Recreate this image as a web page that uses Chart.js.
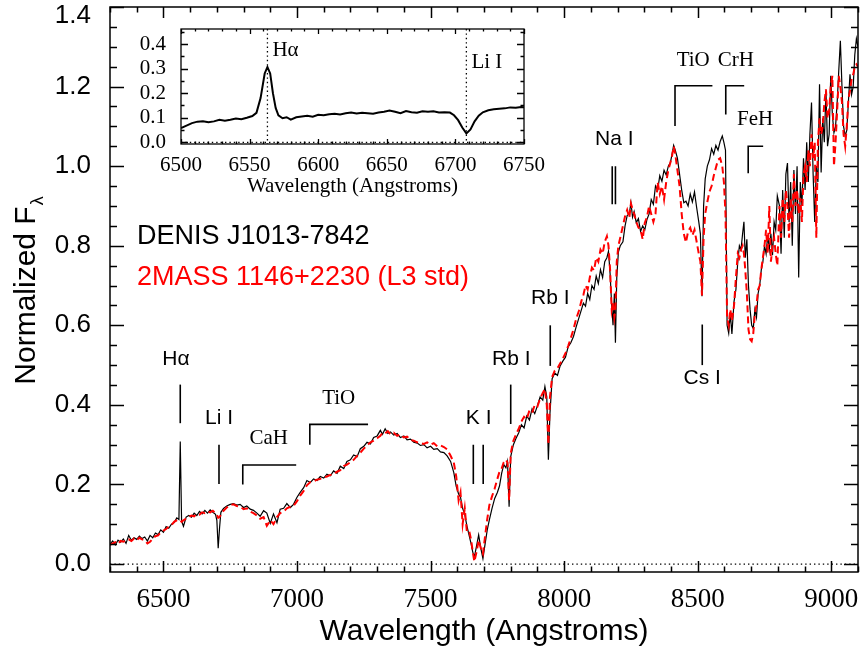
<!DOCTYPE html>
<html>
<head>
<meta charset="utf-8">
<script src="https://cdn.jsdelivr.net/npm/chart.js@4.4.1/dist/chart.umd.min.js"></script>
<style>
  html, body { margin: 0; padding: 0; background: #fff; }
  #wrap { position: relative; width: 863px; height: 651px; }
  #wrap canvas { position: absolute; left: 0; top: 0; }
</style>
</head>
<body>
<div id="wrap">
  <canvas id="main" width="863" height="651"></canvas>
  <canvas id="inset" width="863" height="651"></canvas>
</div>
<script>
// spectra (wavelength in Angstroms, normalized flux)
const wavelength = [
  6300, 6310, 6320, 6330, 6340, 6350, 6360, 6370, 6380, 6390,
  6400, 6410, 6420, 6430, 6440, 6450, 6460, 6470, 6480, 6490,
  6500, 6510, 6520, 6530, 6540, 6550, 6558, 6563, 6568,
  6575, 6585, 6595, 6605, 6615, 6625, 6635, 6645, 6655, 6665,
  6675, 6685, 6695, 6700, 6705, 6710, 6715,
  6725, 6737, 6750, 6762, 6775, 6787, 6800, 6812, 6825, 6837,
  6850, 6862, 6875, 6887, 6900, 6912, 6925, 6937, 6950, 6962,
  6975, 6987, 7000,
  7012, 7025, 7037, 7050, 7062, 7075, 7087, 7100, 7112, 7125,
  7137, 7150, 7162, 7175, 7187, 7200, 7212, 7225, 7237, 7250,
  7262, 7275, 7287, 7300, 7312, 7320, 7330, 7340, 7350, 7362,
  7375, 7387, 7400, 7412, 7425, 7437, 7450, 7462, 7475, 7487,
  7500, 7512, 7525, 7537, 7550,
  7562, 7575, 7587, 7596, 7605, 7612, 7620, 7628, 7636, 7645,
  7652, 7658, 7664, 7672, 7680, 7688, 7696, 7704, 7712, 7720,
  7730, 7740, 7750, 7758, 7766, 7774, 7782, 7788, 7794, 7800,
  7810, 7820, 7830, 7840, 7850, 7860, 7870, 7880, 7890, 7900,
  7910, 7920, 7928, 7935, 7941, 7947, 7955, 7965, 7975, 7985,
  7995,
  8005, 8015, 8025, 8035, 8045, 8055, 8065, 8072, 8080, 8088,
  8096, 8104, 8112, 8120, 8128, 8136, 8144, 8152, 8160, 8166,
  8172, 8178, 8183, 8188, 8192, 8197, 8203,
  8210, 8220, 8228, 8236, 8244, 8250, 8256, 8262, 8270, 8278,
  8286, 8294, 8302, 8310, 8318, 8326, 8334, 8342, 8350, 8358,
  8366, 8374, 8382, 8390, 8398, 8404, 8410, 8416,
  8424, 8432, 8440, 8448, 8456, 8464, 8472, 8480, 8488, 8496,
  8504, 8510, 8516, 8522, 8528, 8536, 8544, 8552, 8560, 8568,
  8576, 8584, 8592, 8598, 8604,
  8610, 8616, 8622, 8628, 8636, 8643, 8650, 8656, 8662, 8668,
  8673, 8678, 8684, 8690, 8696, 8702, 8708, 8714, 8720, 8726,
  8732, 8738, 8744, 8750, 8756, 8762, 8768, 8774, 8780, 8786,
  8792, 8798,
  8806, 8812, 8818, 8824, 8830, 8836, 8842, 8848, 8854, 8860,
  8866, 8872, 8878, 8884, 8890, 8896, 8902, 8908, 8914, 8920,
  8926, 8932, 8938, 8944, 8950, 8956, 8962, 8968, 8974, 8980,
  8986, 8992, 8998, 9004, 9010, 9016, 9022, 9028, 9034, 9040,
  9046, 9052, 9058, 9064, 9070, 9076, 9082, 9088, 9094, 9100
];

// DENIS J1013-7842 (black)
const denisFlux = [
  0.050, 0.058, 0.048, 0.060, 0.055, 0.063, 0.052, 0.072, 0.060, 0.066,
  0.062, 0.070, 0.064, 0.068, 0.058, 0.072, 0.066, 0.078, 0.074, 0.086,
  0.080, 0.094, 0.090, 0.100, 0.104, 0.116, 0.112, 0.308, 0.108,
  0.095, 0.118, 0.122, 0.118, 0.128, 0.122, 0.132, 0.126, 0.135, 0.128,
  0.136, 0.130, 0.125, 0.110, 0.040, 0.090, 0.130,
  0.140, 0.146, 0.150, 0.152, 0.148, 0.150, 0.142, 0.146, 0.138, 0.135,
  0.128, 0.120, 0.134, 0.128, 0.102, 0.126, 0.104, 0.138, 0.140, 0.152,
  0.142, 0.150, 0.168,
  0.180, 0.192, 0.210, 0.205, 0.214, 0.210, 0.220, 0.216, 0.226, 0.222,
  0.234, 0.228, 0.246, 0.240, 0.258, 0.262, 0.274, 0.270, 0.290, 0.296,
  0.306, 0.302, 0.318, 0.322, 0.336, 0.326, 0.340, 0.328, 0.332, 0.324,
  0.328, 0.318, 0.322, 0.312, 0.314, 0.306, 0.304, 0.298, 0.300, 0.292,
  0.296, 0.288, 0.290, 0.282, 0.280,
  0.272, 0.258, 0.230, 0.195, 0.176, 0.168, 0.140, 0.125, 0.096, 0.070,
  0.050, 0.030, 0.018, 0.045, 0.073, 0.040, 0.014, 0.050, 0.085, 0.111,
  0.140, 0.165, 0.180, 0.196, 0.228, 0.250, 0.242, 0.258, 0.144, 0.270,
  0.300, 0.316, 0.330, 0.350, 0.342, 0.372, 0.362, 0.390, 0.378, 0.398,
  0.420, 0.412, 0.446, 0.420, 0.262, 0.380, 0.466, 0.480, 0.474, 0.498,
  0.510,
  0.520, 0.546, 0.556, 0.572, 0.596, 0.618, 0.640, 0.656, 0.648, 0.680,
  0.665, 0.700, 0.690, 0.724, 0.705, 0.740, 0.720, 0.760, 0.770, 0.786,
  0.730, 0.650, 0.600, 0.680, 0.556, 0.720, 0.784,
  0.800, 0.810, 0.850, 0.876, 0.880, 0.908, 0.872, 0.886, 0.858, 0.868,
  0.836, 0.850, 0.840, 0.866, 0.880, 0.916, 0.904, 0.950, 0.940, 0.976,
  0.962, 0.990, 0.978, 1.000, 1.010, 1.030, 1.052, 1.040,
  1.020, 0.980, 0.940, 0.908, 0.912, 0.900, 0.930, 0.910, 0.935, 0.896,
  0.860, 0.830, 0.673, 0.900, 0.968, 1.000, 1.016, 1.044, 1.030, 1.052,
  1.040, 1.062, 1.076, 1.060, 1.040,
  0.600, 0.580, 0.630, 0.578, 0.660, 0.690, 0.760, 0.800, 0.790, 0.830,
  0.860, 0.770, 0.816, 0.700, 0.640, 0.600, 0.592, 0.640, 0.620, 0.680,
  0.700, 0.740, 0.760, 0.800, 0.780, 0.826, 0.790, 0.830, 0.776, 0.860,
  0.840, 0.925,
  0.900, 0.780, 0.940, 0.820, 0.980, 1.008, 0.860, 0.960, 0.800, 0.990,
  0.880, 1.000, 0.720, 0.960, 0.900, 1.020, 0.940, 1.060, 0.960, 1.080,
  1.160, 0.980, 0.860, 1.000, 0.960, 1.206, 0.984, 1.120, 1.060, 1.190,
  1.050, 1.080, 1.227, 1.130, 1.084, 1.100, 1.160, 1.240, 1.315, 1.200,
  1.100, 1.076, 1.090, 1.160, 1.231, 1.180, 1.200, 1.280, 1.320, 1.300
];

// 2MASS 1146+2230, L3 standard (red dashed)
const stdFlux = [
  0.048, 0.052, 0.055, 0.050, 0.058, 0.056, 0.060, 0.062, 0.058, 0.064,
  0.060, 0.066, 0.062, 0.060, 0.052, 0.056, 0.064, 0.070, 0.072, 0.080,
  0.084, 0.088, 0.094, 0.098, 0.106, 0.110, 0.112, 0.110, 0.106,
  0.110, 0.114, 0.118, 0.122, 0.120, 0.126, 0.124, 0.130, 0.128, 0.132,
  0.130, 0.134, 0.128, 0.124, 0.116, 0.118, 0.124,
  0.134, 0.142, 0.148, 0.150, 0.146, 0.144, 0.138, 0.140, 0.132, 0.128,
  0.122, 0.114, 0.118, 0.096, 0.110, 0.100, 0.118, 0.128, 0.132, 0.140,
  0.144, 0.146, 0.158,
  0.172, 0.184, 0.198, 0.206, 0.208, 0.212, 0.214, 0.218, 0.220, 0.224,
  0.226, 0.232, 0.236, 0.246, 0.250, 0.256, 0.262, 0.272, 0.280, 0.290,
  0.298, 0.306, 0.310, 0.316, 0.322, 0.330, 0.328, 0.334, 0.326, 0.330,
  0.322, 0.326, 0.318, 0.320, 0.312, 0.310, 0.306, 0.304, 0.302, 0.306,
  0.300, 0.304, 0.296, 0.298, 0.294,
  0.288, 0.272, 0.255, 0.220, 0.160, 0.180, 0.100, 0.140, 0.080, 0.082,
  0.060, 0.030, 0.006, 0.030, 0.060, 0.040, 0.026, 0.070, 0.112, 0.148,
  0.170, 0.190, 0.214, 0.232, 0.240, 0.256, 0.262, 0.255, 0.160, 0.278,
  0.310, 0.326, 0.340, 0.358, 0.370, 0.364, 0.386, 0.380, 0.400, 0.396,
  0.416, 0.430, 0.440, 0.400, 0.300, 0.420, 0.470, 0.486, 0.492, 0.504,
  0.516,
  0.530, 0.548, 0.568, 0.590, 0.616, 0.636, 0.662, 0.676, 0.700, 0.690,
  0.720, 0.745, 0.738, 0.770, 0.760, 0.790, 0.780, 0.810, 0.824, 0.800,
  0.740, 0.640, 0.660, 0.620, 0.640, 0.760, 0.800,
  0.820, 0.850, 0.874, 0.890, 0.870, 0.906, 0.892, 0.880, 0.860, 0.846,
  0.840, 0.816, 0.858, 0.872, 0.900, 0.880, 0.860, 0.880, 0.960, 0.930,
  0.950, 0.916, 0.960, 0.990, 1.010, 1.026, 1.050, 1.030,
  0.990, 0.950, 0.880, 0.830, 0.808, 0.836, 0.845, 0.826, 0.840, 0.810,
  0.780, 0.760, 0.675, 0.820, 0.880, 0.910, 0.936, 0.950, 0.976, 0.996,
  1.016, 1.020, 1.000, 0.960, 0.880,
  0.620, 0.600, 0.640, 0.612, 0.650, 0.720, 0.780, 0.770, 0.790, 0.800,
  0.780, 0.740, 0.680, 0.590, 0.565, 0.560, 0.580, 0.630, 0.650, 0.690,
  0.700, 0.740, 0.770, 0.800, 0.840, 0.780, 0.900, 0.760, 0.800, 0.820,
  0.780, 0.750,
  0.900, 0.820, 0.920, 0.860, 0.940, 0.900, 0.820, 0.920, 0.860, 0.980,
  0.900, 0.940, 0.880, 0.920, 0.860, 0.980, 1.000, 0.960, 1.040, 1.000,
  1.080, 1.020, 1.060, 0.820, 1.060, 1.120, 1.080, 1.100, 1.160, 1.193,
  1.120, 1.140, 1.200, 1.227, 1.000, 1.060, 1.140, 1.227, 1.200, 1.160,
  1.080, 1.050, 1.100, 1.168, 1.190, 1.218, 1.230, 1.250, 1.256, 1.250
];

const seriesNames = ['DENIS J1013-7842', '2MASS 1146+2230 (L3 std)'];
const xTicks = [6500, 7000, 7500, 8000, 8500, 9000];
const yTicks = [0.0, 0.2, 0.4, 0.6, 0.8, 1.0, 1.2, 1.4];

// inset: zoom on H-alpha and Li I
const insetWave = [
  6500, 6504, 6508, 6512, 6516, 6520, 6524, 6528, 6532, 6536,
  6540, 6544, 6548, 6552, 6555, 6558, 6561, 6563, 6565, 6567,
  6569, 6571, 6574, 6577, 6580, 6584, 6588, 6592, 6596, 6600,
  6604, 6608, 6612, 6616, 6620, 6624, 6628, 6632, 6636, 6640,
  6644, 6648, 6652, 6656, 6660, 6664, 6668, 6672, 6676, 6680,
  6684, 6688, 6692, 6696, 6699, 6702, 6705, 6708, 6711, 6714,
  6717, 6720, 6724, 6728, 6732, 6736, 6740, 6744, 6748, 6750
];
const insetFlux = [
  0.058, 0.068, 0.078, 0.084, 0.086, 0.082, 0.085, 0.092, 0.088, 0.092,
  0.097, 0.094, 0.100, 0.107, 0.120, 0.180, 0.280, 0.306, 0.280, 0.200,
  0.140, 0.110, 0.098, 0.102, 0.092, 0.102, 0.105, 0.108, 0.104, 0.112,
  0.110, 0.114, 0.116, 0.113, 0.118, 0.121, 0.117, 0.120, 0.118, 0.116,
  0.121, 0.124, 0.129, 0.124, 0.118, 0.127, 0.122, 0.120, 0.126, 0.124,
  0.126, 0.121, 0.122, 0.121, 0.110, 0.090, 0.060, 0.036, 0.052, 0.085,
  0.108, 0.122, 0.130, 0.134, 0.136, 0.138, 0.142, 0.141, 0.144, 0.143
];
const insetXTicks = [6500, 6550, 6600, 6650, 6700, 6750];
const insetYTicks = [0.0, 0.1, 0.2, 0.3, 0.4];

// spectral feature labels
const lineIds = [
  { text: 'Hα', at: [6563], from: 0.354, to: 0.451, labelX: 6547, labelY: 0.514 },
  { text: 'Li I', at: [6708], from: 0.201, to: 0.300, labelX: 6708, labelY: 0.366 },
  { text: 'K I', at: [7660, 7697], from: 0.201, to: 0.300, labelX: 7680, labelY: 0.366 },
  { text: 'Rb I', at: [7800], from: 0.352, to: 0.451, labelX: 7802, labelY: 0.514 },
  { text: 'Rb I', at: [7948], from: 0.498, to: 0.600, labelX: 7948, labelY: 0.668 },
  { text: 'Na I', at: [8180, 8192], from: 0.904, to: 1.000, labelX: 8188, labelY: 1.067 },
  { text: 'Cs I', at: [8517], from: 0.500, to: 0.602, labelX: 8517, labelY: 0.466 }
];
const bands = [
  { text: 'CaH', from: 6797, to: 6997, foot: 0.200, top: 0.249, labelX: 6894, labelY: 0.316 },
  { text: 'TiO', from: 7048, to: 7266, foot: 0.300, top: 0.351, labelX: 7156, labelY: 0.415 },
  { text: 'TiO', from: 8415, to: 8555, foot: 1.101, top: 1.202, labelX: 8483, labelY: 1.266 },
  { text: 'CrH', from: 8605, to: 8674, foot: 1.130, top: 1.202, labelX: 8643, labelY: 1.266 },
  { text: 'FeH', from: 8689, to: 8745, foot: 0.982, top: 1.050, labelX: 8715, labelY: 1.118 }
];

const sans = "'Liberation Sans', Arial, Helvetica, sans-serif";
const serif = "'Liberation Serif', 'Times New Roman', Times, serif";

// IDL-like box: frame plus inward major/minor ticks on all four sides
const idlFrame = {
  id: 'idlFrame',
  afterDatasetsDraw(chart, args, o) {
    const { ctx, chartArea: a, scales: { x, y } } = chart;
    const isMajor = (v, step, base) => Math.abs((v - base) / step - Math.round((v - base) / step)) < 1e-6;
    ctx.save();
    ctx.strokeStyle = '#000';
    ctx.lineWidth = o.lineWidth;
    ctx.beginPath();
    for (let k = 0; ; k++) {
      const v = o.xStart + k * o.xMinor;
      if (v > x.max + 1e-9) break;
      const px = Math.round(x.getPixelForValue(v)) + 0.5;
      const len = isMajor(v, o.xMajor, o.xBase) ? o.xLen : o.xLen / 2;
      ctx.moveTo(px, a.bottom); ctx.lineTo(px, a.bottom - len);
      ctx.moveTo(px, a.top); ctx.lineTo(px, a.top + len);
    }
    for (let k = 0; ; k++) {
      const v = o.yStart + k * o.yMinor;
      if (v > y.max + 1e-9) break;
      const py = Math.round(y.getPixelForValue(v)) + 0.5;
      const len = isMajor(v, o.yMajor, o.yBase) ? o.yLen : o.yLen / 2;
      ctx.moveTo(a.left, py); ctx.lineTo(a.left + len, py);
      ctx.moveTo(a.right, py); ctx.lineTo(a.right - len, py);
    }
    ctx.stroke();
    ctx.strokeRect(a.left, a.top, a.right - a.left, a.bottom - a.top);
    ctx.restore();
  }
};

const mainMarks = {
  id: 'mainMarks',
  afterDatasetsDraw(chart) {
    const { ctx, chartArea: a, scales: { x, y } } = chart;
    ctx.save();
    // zero level
    ctx.strokeStyle = '#000';
    ctx.lineWidth = 1.3;
    ctx.setLineDash([1.4, 3]);
    ctx.beginPath();
    ctx.moveTo(a.left, y.getPixelForValue(0));
    ctx.lineTo(a.right, y.getPixelForValue(0));
    ctx.stroke();
    ctx.setLineDash([]);

    ctx.lineWidth = 1.6;
    ctx.fillStyle = '#000';
    ctx.textAlign = 'center';
    ctx.textBaseline = 'middle';
    ctx.font = `21px ${sans}`;
    lineIds.forEach(f => {
      ctx.beginPath();
      f.at.forEach(w => {
        const px = x.getPixelForValue(w);
        ctx.moveTo(px, y.getPixelForValue(f.from));
        ctx.lineTo(px, y.getPixelForValue(f.to));
      });
      ctx.stroke();
      ctx.fillText(f.text, x.getPixelForValue(f.labelX), y.getPixelForValue(f.labelY));
    });
    ctx.font = `21px ${serif}`;
    bands.forEach(b => {
      const x0 = x.getPixelForValue(b.from), x1 = x.getPixelForValue(b.to);
      const yt = y.getPixelForValue(b.top);
      ctx.beginPath();
      ctx.moveTo(x0, y.getPixelForValue(b.foot));
      ctx.lineTo(x0, yt);
      ctx.lineTo(x1, yt);
      ctx.stroke();
      ctx.fillText(b.text, x.getPixelForValue(b.labelX), y.getPixelForValue(b.labelY));
    });

    // legend text
    ctx.textAlign = 'left';
    ctx.font = `27px ${sans}`;
    ctx.fillStyle = '#000';
    ctx.fillText(seriesNames[0], a.left + 27, 237);
    ctx.fillStyle = '#ff0000';
    ctx.fillText(seriesNames[1], a.left + 27, 278);

    // y title with subscript lambda
    ctx.fillStyle = '#000';
    ctx.translate(25, 291);
    ctx.rotate(-Math.PI / 2);
    ctx.textBaseline = 'alphabetic';
    ctx.font = `30px ${sans}`;
    const t1 = 'Normalized F';
    const w1 = ctx.measureText(t1).width;
    ctx.font = `18px ${sans}`;
    const w2 = ctx.measureText('λ').width;
    const u0 = -(w1 + w2) / 2;
    ctx.font = `30px ${sans}`;
    ctx.fillText(t1, u0, 10);
    ctx.font = `18px ${sans}`;
    ctx.fillText('λ', u0 + w1 + 1, 18);
    ctx.restore();
  }
};

const insetMarks = {
  id: 'insetMarks',
  beforeDatasetsDraw(chart) {
    const { ctx, chartArea: a, scales: { x, y } } = chart;
    ctx.save();
    ctx.strokeStyle = '#000';
    ctx.lineWidth = 1.3;
    ctx.setLineDash([1.4, 3]);
    ctx.beginPath();
    ctx.moveTo(a.left, y.getPixelForValue(0));
    ctx.lineTo(a.right, y.getPixelForValue(0));
    [6563, 6708].forEach(w => {
      const px = x.getPixelForValue(w);
      ctx.moveTo(px, a.top);
      ctx.lineTo(px, a.bottom);
    });
    ctx.stroke();
    ctx.setLineDash([]);
    ctx.fillStyle = '#000';
    ctx.font = `21px ${serif}`;
    ctx.textAlign = 'left';
    ctx.textBaseline = 'middle';
    ctx.fillText('Hα', x.getPixelForValue(6563) + 5, y.getPixelForValue(0.372));
    ctx.fillText('Li I', x.getPixelForValue(6708) + 5, y.getPixelForValue(0.326));
    ctx.restore();
  }
};

new Chart(document.getElementById('main'), {
  type: 'line',
  data: {
    datasets: [
      {
        label: seriesNames[1],
        data: wavelength.map((w, i) => ({ x: w, y: stdFlux[i] })),
        borderColor: '#ff0000',
        borderWidth: 2,
        borderDash: [7, 4],
        pointRadius: 0,
        tension: 0
      },
      {
        label: seriesNames[0],
        data: wavelength.map((w, i) => ({ x: w, y: denisFlux[i] })),
        borderColor: '#000000',
        borderWidth: 1.2,
        pointRadius: 0,
        tension: 0
      }
    ]
  },
  options: {
    responsive: false,
    animation: false,
    devicePixelRatio: 1,
    layout: { padding: { left: 0, right: 5, top: 7, bottom: 0 } },
    plugins: {
      legend: { display: false },
      tooltip: { enabled: false },
      idlFrame: {
        lineWidth: 1.5,
        xStart: 6300, xMinor: 100, xMajor: 500, xBase: 6500, xLen: 11,
        yStart: 0, yMinor: 0.05, yMajor: 0.2, yBase: 0, yLen: 14
      }
    },
    scales: {
      x: {
        type: 'linear',
        min: 6300,
        max: 9100,
        grid: { display: false },
        border: { display: false },
        afterBuildTicks: s => { s.ticks = xTicks.map(v => ({ value: v })); },
        ticks: {
          color: '#000',
          font: { family: serif, size: 27, lineHeight: 1 },
          padding: 6,
          maxRotation: 0,
          autoSkip: false,
          callback: v => String(v)
        },
        title: {
          display: true,
          text: 'Wavelength (Angstroms)',
          color: '#000',
          font: { family: sans, size: 30, lineHeight: 1 },
          padding: { top: 0, bottom: 4 }
        },
        afterFit: s => { s.height = 79; s.paddingLeft = 0; s.paddingRight = 0; }
      },
      y: {
        min: -0.02,
        max: 1.4,
        grid: { display: false },
        border: { display: false },
        afterBuildTicks: s => { s.ticks = yTicks.map(v => ({ value: v })); },
        ticks: {
          color: '#000',
          padding: 11,
          font: c => ({ family: sans, size: 26, lineHeight: (c.tick && c.tick.value === 1.4) ? 0.68 : 1.2 }),
          callback: v => (v === 1.4 ? ['', v.toFixed(1)] : v.toFixed(1))
        },
        afterFit: s => { s.width = 110; s.paddingTop = 0; s.paddingBottom = 0; }
      }
    }
  },
  plugins: [idlFrame, mainMarks]
});

new Chart(document.getElementById('inset'), {
  type: 'line',
  data: {
    datasets: [{
      label: seriesNames[0],
      data: insetWave.map((w, i) => ({ x: w, y: insetFlux[i] })),
      borderColor: '#000000',
      borderWidth: 2,
      pointRadius: 0,
      tension: 0
    }]
  },
  options: {
    responsive: false,
    animation: false,
    devicePixelRatio: 1,
    layout: { padding: { left: 0, right: 339, top: 29, bottom: 447 } },
    plugins: {
      legend: { display: false },
      tooltip: { enabled: false },
      idlFrame: {
        lineWidth: 1.3,
        xStart: 6500, xMinor: 10, xMajor: 50, xBase: 6500, xLen: 5,
        yStart: 0, yMinor: 0.05, yMajor: 0.1, yBase: 0, yLen: 7
      }
    },
    scales: {
      x: {
        type: 'linear',
        min: 6500,
        max: 6750,
        grid: { display: false },
        border: { display: false },
        afterBuildTicks: s => { s.ticks = insetXTicks.map(v => ({ value: v })); },
        ticks: {
          color: '#000',
          font: { family: serif, size: 21, lineHeight: 1 },
          padding: 3,
          maxRotation: 0,
          autoSkip: false,
          callback: v => String(v)
        },
        title: {
          display: true,
          text: 'Wavelength (Angstroms)',
          color: '#000',
          font: { family: serif, size: 21, lineHeight: 1 },
          padding: { top: 0, bottom: 7 }
        },
        afterFit: s => { s.height = 60; s.paddingLeft = 0; s.paddingRight = 0; }
      },
      y: {
        min: -0.007,
        max: 0.461,
        grid: { display: false },
        border: { display: false },
        afterBuildTicks: s => { s.ticks = insetYTicks.map(v => ({ value: v })); },
        ticks: {
          color: '#000',
          padding: 7,
          font: { family: serif, size: 21 },
          callback: v => v.toFixed(1)
        },
        afterFit: s => { s.width = 181; s.paddingTop = 0; s.paddingBottom = 0; }
      }
    }
  },
  plugins: [insetMarks, idlFrame]
});
</script>
</body>
</html>
